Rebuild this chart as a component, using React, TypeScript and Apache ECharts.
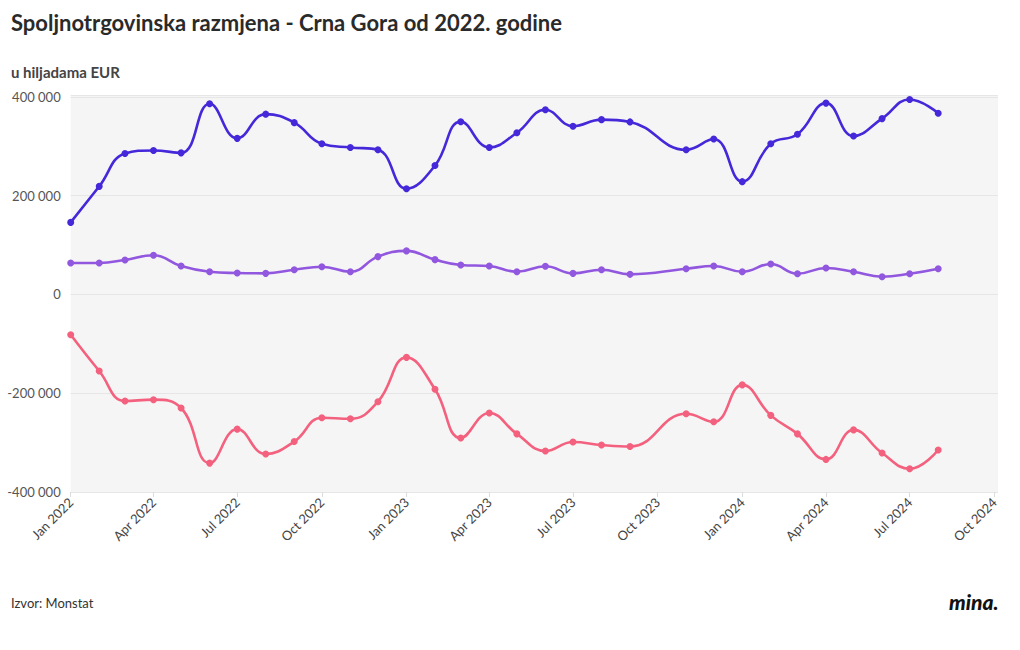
import React, { useEffect, useRef } from "react";
import * as echarts from "echarts";

const months = [
  "2022-01-01", "2022-02-01", "2022-03-01", "2022-04-01", "2022-05-01", "2022-06-01",
  "2022-07-01", "2022-08-01", "2022-09-01", "2022-10-01", "2022-11-01", "2022-12-01",
  "2023-01-01", "2023-02-01", "2023-03-01", "2023-04-01", "2023-05-01", "2023-06-01",
  "2023-07-01", "2023-08-01", "2023-09-01", "2023-11-01", "2023-12-01",
  "2024-01-01", "2024-02-01", "2024-03-01", "2024-04-01", "2024-05-01", "2024-06-01",
  "2024-07-01", "2024-08-01",
];

const uvoz = [
  146000, 219000, 285600, 291700, 286800, 386200, 316200, 365200, 348000, 305200, 297800, 293000,
  214200, 261100, 350000, 297800, 327600, 374000, 340700, 354100, 349500, 293000, 314800,
  228500, 305200, 324400, 387600, 320900, 356200, 395000, 367200,
];

const izvoz = [
  63900, 63900, 70000, 79600, 57700, 46100, 43500, 42800, 50200, 56300, 46100, 76700,
  88300, 70600, 59800, 57700, 46100, 57100, 42800, 50200, 40800, 52200, 57700,
  46100, 61800, 42000, 53700, 46100, 35900, 42000, 52200,
];

const saldo = [
  -81600, -155000, -215600, -213000, -229900, -341500, -272700, -323100, -297800, -249700, -251700, -217100,
  -127300, -191800, -290500, -240100, -282300, -317000, -298700, -304800, -308000, -241500, -257900,
  -183000, -244800, -282300, -334000, -274200, -321100, -352900, -315000,
];

const monthNames = ["Jan", "Feb", "Mar", "Apr", "May", "Jun", "Jul", "Aug", "Sep", "Oct", "Nov", "Dec"];

const FONT = "Lato";
const DAY = 24 * 3600 * 1000;

function fmtNum(v: number): string {
  const s = Math.abs(v).toString().replace(/\B(?=(\d{3})+(?!\d))/g, " ");
  return (v < 0 ? "-" : "") + s;
}

export default function App() {
  const ref = useRef<HTMLDivElement>(null);
  useEffect(() => {
    const chart = echarts.init(ref.current!, null, { renderer: "svg" });
    const mk = (name: string, vals: number[], color: string) => ({
      name,
      type: "line",
      data: months.map((m, i) => [m, vals[i]]),
      smooth: 0.45,
      symbol: "circle",
      symbolSize: 7,
      lineStyle: { width: 2.6, color },
      itemStyle: { color },
    });
    chart.setOption({
      animation: false,
      textStyle: { fontFamily: FONT },
      title: [
        {
          text: "Spoljnotrgovinska razmjena - Crna Gora od 2022. godine",
          left: 11,
          top: 11,
          padding: 0,
          textStyle: { fontSize: 22, fontWeight: "bold", color: "#2a2a2a", fontFamily: FONT },
        },
        {
          text: "u hiljadama EUR",
          left: 11,
          top: 64,
          padding: 0,
          textStyle: { fontSize: 15, fontWeight: "bold", color: "#444", fontFamily: FONT },
        },
      ],
      grid: {
        left: 70.7,
        right: 22,
        top: 95,
        bottom: 158,
        show: true,
        backgroundColor: "#f5f5f5",
        borderWidth: 0,
      },
      xAxis: {
        type: "time",
        min: new Date(2022, 0, 1).getTime(),
        max: new Date(2024, 9, 5).getTime(),
        splitNumber: 11,
        minInterval: 80 * DAY,
        maxInterval: 100 * DAY,
        axisLine: { show: false, onZero: false },
        axisTick: { show: true, length: 5, lineStyle: { color: "#dcdcdc" } },
        splitLine: { show: false },
        axisLabel: {
          rotate: 45,
          fontSize: 13,
          color: "#444",
          margin: 8,
          fontFamily: FONT,
          formatter: (val: number) => {
            const d = new Date(val);
            return monthNames[d.getMonth()] + " " + d.getFullYear();
          },
        },
      },
      yAxis: {
        type: "value",
        min: -400000,
        max: 404000,
        interval: 200000,
        axisLine: { show: false },
        axisTick: { show: false },
        splitLine: { show: true, lineStyle: { color: "#e6e6e6", width: 1 } },
        axisLabel: {
          fontSize: 13,
          color: "#555",
          margin: 10,
          showMaxLabel: false,
          fontFamily: FONT,
          formatter: (v: number) => fmtNum(v),
        },
      },
      series: [
        mk("Uvoz", uvoz, "#4428d9"),
        mk("Izvoz", izvoz, "#9257df"),
        mk("Saldo", saldo, "#f3617f"),
      ],
      graphic: [
        {
          type: "text",
          left: 11,
          top: 596,
          style: { text: "Izvor: Monstat", fontSize: 13, fill: "#333", fontFamily: FONT },
        },
        {
          type: "text",
          left: 949,
          top: 591,
          style: {
            text: "mina.",
            fontSize: 21,
            fontWeight: 900,
            fontStyle: "italic",
            fill: "#111",
            fontFamily: FONT,
          },
        },
      ],
    });
    return () => chart.dispose();
  }, []);
  return (
    <div
      ref={ref}
      style={{ position: "fixed", left: 0, top: 0, width: 1020, height: 650, background: "#fff" }}
    />
  );
}
